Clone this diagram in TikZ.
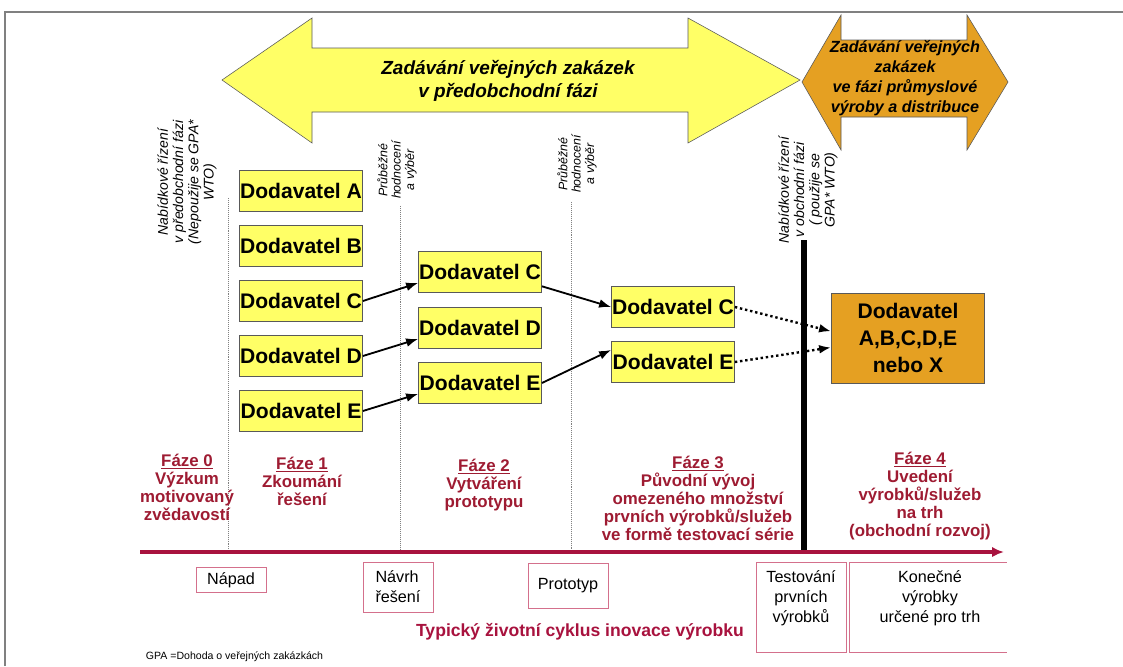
\documentclass[tikz,border=0pt]{standalone}
\usepackage[table, x11names]{xcolor}
\usepackage{fontspec}
\setmainfont{Liberation Sans}
\usepackage{tikz}
\usetikzlibrary{positioning,arrows.meta}

\definecolor{dodyellow}{HTML}{FFFF66}
\definecolor{zakorange}{HTML}{E5A022}
\definecolor{fazered}{HTML}{9E1B32}
\definecolor{cyklred}{HTML}{A8123E}
\definecolor{boxpink}{HTML}{D4708C}

\tikzset{
  dodbox/.style={draw=gray!70!black,fill=dodyellow,minimum width=3.08cm,minimum height=1.03cm,inner sep=0pt,font=\fontsize{15}{16}\selectfont\bfseries},
  faze/.style={align=center,text=fazered,font=\fontsize{12}{12.8}\selectfont\bfseries},
  nabidka/.style={rotate=90,align=center,font=\fontsize{10}{10.8}\selectfont\itshape},
  hodnoceni/.style={rotate=90,align=center,font=\fontsize{8.8}{9.5}\selectfont\itshape},
  milnik/.style={draw=boxpink,align=center,inner sep=0pt,font=\fontsize{11.5}{14.2}\selectfont},
  deleni/.style={gray,densely dotted},
  sipka/.style={-{Latex[length=3mm,width=2.2mm]},line width=1.3pt},
}

\begin{document}
\begin{tikzpicture}[x=0.025cm,y=-0.025cm]
  \useasboundingbox (0,0) rectangle (1123,666);
  \draw[gray,line width=1pt] (5,666) -- (5,12) -- (1123,12);

  % velke sipky nahore
  \draw[gray!70!black,fill=dodyellow] (222,80) -- (312,18) -- (312,48) -- (688,48) -- (688,18) -- (800,80)
    -- (688,143) -- (688,112) -- (312,112) -- (312,143) -- cycle;
  \node[align=center,font=\fontsize{13.5}{16.3}\selectfont\bfseries\itshape] (predobch) at (508,81)
    {Zadávání veřejných zakázek\\v předobchodní fázi};
  \draw[gray!70!black,fill=zakorange] (802,82) -- (841,15) -- (841,40) -- (967,40) -- (967,15) -- (1008,82)
    -- (967,150) -- (967,117) -- (841,117) -- (841,150) -- cycle;
  \node[align=center,font=\fontsize{11.5}{14.2}\selectfont\bfseries\itshape] (prumysl) at (905,78)
    {Zadávání veřejných\\zakázek\\ve fázi průmyslové\\výroby a distribuce};

  % svisle popisky
  \node[nabidka] (rizeni0) at (187,182) {Nabídkové řízení\\v předobchodní fázi\\(Nepoužije se GPA*\\WTO)};
  \node[hodnoceni] (hodn1) at (397,170) {Průběžné\\hodnocení\\a výběr};
  \node[hodnoceni] (hodn2) at (577,164) {Průběžné\\hodnocení\\a výběr};
  \node[nabidka] (rizeni4) at (808,190) {Nabídkové řízení\\v obchodní fázi\\( použije se\\GPA* WTO)};

  \draw[deleni] (228,198) -- (228,552);
  \draw[deleni] (400,206) -- (400,552);
  \draw[deleni] (571,202) -- (571,552);
  \draw[line width=3.6pt] (804,240) -- (804,552);

  % dodavatele
  \node[dodbox] (a1) at (301,191) {Dodavatel A};
  \node[dodbox] (b1) at (301,246) {Dodavatel B};
  \node[dodbox] (c1) at (301,301) {Dodavatel C};
  \node[dodbox] (d1) at (301,356) {Dodavatel D};
  \node[dodbox] (e1) at (301,411) {Dodavatel E};

  \node[dodbox] (c2) at (480,272) {Dodavatel C};
  \node[dodbox] (d2) at (480,328) {Dodavatel D};
  \node[dodbox] (e2) at (480,383) {Dodavatel E};

  \node[dodbox] (c3) at (673,307) {Dodavatel C};
  \node[dodbox] (e3) at (673,362) {Dodavatel E};

  \node[draw=gray!70!black,fill=zakorange,minimum width=3.83cm,minimum height=2.25cm,align=center,
    font=\fontsize{15}{19}\selectfont\bfseries] (vyber) at (908,338) {Dodavatel\\A,B,C,D,E\\nebo X};

  \draw[sipka] (c1.east) -- (c2.190);
  \draw[sipka] (d1.east) -- (d2.190);
  \draw[sipka] (e1.east) -- (e2.190);
  \draw[sipka] (c2.-13) -- (c3.west);
  \draw[sipka] (e2.east) -- (e3.169);
  \draw[sipka,line width=1.7pt,dotted] (c3.east) -- (vyber.175);
  \draw[sipka,line width=1.7pt,dotted] (e3.east) -- (vyber.187);

  % faze
  \node[faze] (faze0) at (187,487) {\underline{Fáze 0}\\Výzkum\\motivovaný\\zvědavostí};
  \node[faze] (faze1) at (302,481) {\underline{Fáze 1}\\Zkoumání\\řešení};
  \node[faze] (faze2) at (484,485) {\underline{Fáze 2}\\Vytváření\\prototypu};
  \node[faze] (faze3) at (698,498) {\underline{Fáze 3}\\Původní vývoj\\omezeného množství\\prvních výrobků/služeb\\ve formě testovací série};
  \node[faze] (faze4) at (920,496) {\underline{Fáze 4}\\Uvedení\\výrobků/služeb\\na trh\\(obchodní rozvoj)};

  \draw[cyklred,line width=2.2pt,-{Latex[length=3mm,width=2.6mm]}] (140,552) -- (1004,552);

  % milniky
  \node[milnik,minimum width=1.75cm,minimum height=0.63cm] (napad) at (231,580) {Nápad};
  \node[milnik,minimum width=1.75cm,minimum height=1.25cm,align=left] (navrh) at (398,587) {Návrh\\řešení};
  \node[milnik,minimum width=2cm,minimum height=1.13cm] (prototyp) at (568,586) {Prototyp};
  \node[milnik,minimum width=2.25cm,minimum height=2.25cm] (testbox) at (801,607) {};
  \node[align=center,font=\fontsize{11.5}{14.2}\selectfont] (testovani) at (801,598) {Testování\\prvních\\výrobků};
  \draw[boxpink] (849,562) -- (1007,562);
  \draw[boxpink] (849,652) -- (1007,652);
  \draw[boxpink] (849,562) -- (849,652);
  \node[align=center,font=\fontsize{11.5}{14.2}\selectfont] (konecne) at (930,598) {Konečné\\výrobky\\určené pro trh};

  \node[text=cyklred,font=\fontsize{12.5}{14}\selectfont\bfseries] (cyklus) at (580,632) {Typický životní cyklus inovace výrobku};
  \node[anchor=west,font=\fontsize{7.5}{9}\selectfont] (gpa) at (141,657) {GPA =Dohoda o veřejných zakázkách};
\end{tikzpicture}
\end{document}
